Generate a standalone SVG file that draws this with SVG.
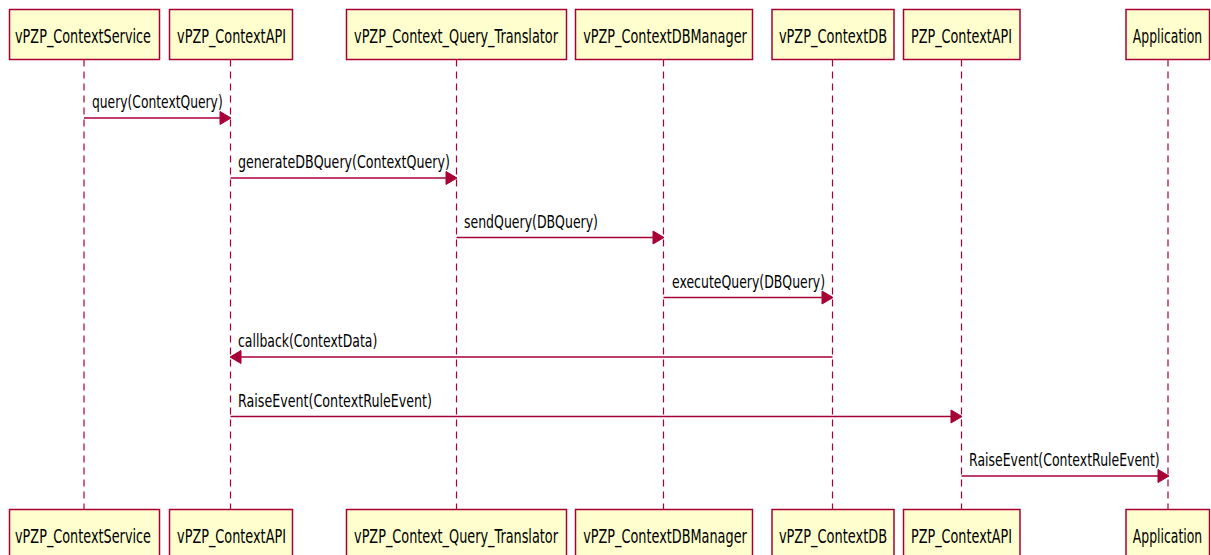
<svg xmlns="http://www.w3.org/2000/svg" width="1211" height="555" viewBox="0 0 1211 555">
<style>
.box{fill:#FEFECE;stroke:#A80036;stroke-width:1.5}
.pt{font-family:"DejaVu Sans","Liberation Sans",sans-serif;font-size:19px;fill:#000;text-anchor:middle}
.mt{font-family:"DejaVu Sans","Liberation Sans",sans-serif;font-size:18px;fill:#000}
.life{stroke:#A80036;stroke-width:1.2;stroke-dasharray:7,5;fill:none}
.msg{stroke:#A80036;stroke-width:1.5;fill:none}
.head{fill:#A80036;stroke:#A80036;stroke-width:1}
</style>
<rect width="1211" height="555" fill="#fff"/>
<g id="lifelines">
<line class="life" x1="84" y1="59.5" x2="84" y2="509.5"/>
<line class="life" x1="230.5" y1="59.5" x2="230.5" y2="509.5"/>
<line class="life" x1="456.5" y1="59.5" x2="456.5" y2="509.5"/>
<line class="life" x1="663.5" y1="59.5" x2="663.5" y2="509.5"/>
<line class="life" x1="832.5" y1="59.5" x2="832.5" y2="509.5"/>
<line class="life" x1="961.5" y1="59.5" x2="961.5" y2="509.5"/>
<line class="life" x1="1168" y1="59.5" x2="1168" y2="509.5"/>
</g>
<g id="vPZP_ContextService">
<rect class="box" x="9.5" y="9.5" width="150" height="50"/>
<text class="pt" transform="translate(83,43) scale(0.66,1)" textLength="206" lengthAdjust="spacingAndGlyphs">vPZP_ContextService</text>
<rect class="box" x="9.5" y="509.5" width="150" height="50"/>
<text class="pt" transform="translate(83,543) scale(0.66,1)" textLength="206" lengthAdjust="spacingAndGlyphs">vPZP_ContextService</text>
</g>
<g id="vPZP_ContextAPI">
<rect class="box" x="169.5" y="9.5" width="123" height="50"/>
<text class="pt" transform="translate(231.5,43) scale(0.66,1)" textLength="165" lengthAdjust="spacingAndGlyphs">vPZP_ContextAPI</text>
<rect class="box" x="169.5" y="509.5" width="123" height="50"/>
<text class="pt" transform="translate(231.5,543) scale(0.66,1)" textLength="165" lengthAdjust="spacingAndGlyphs">vPZP_ContextAPI</text>
</g>
<g id="vPZP_Context_Query_Translator">
<rect class="box" x="346.5" y="9.5" width="220" height="50"/>
<text class="pt" transform="translate(456,43) scale(0.66,1)" textLength="309" lengthAdjust="spacingAndGlyphs">vPZP_Context_Query_Translator</text>
<rect class="box" x="346.5" y="509.5" width="220" height="50"/>
<text class="pt" transform="translate(456,543) scale(0.66,1)" textLength="309" lengthAdjust="spacingAndGlyphs">vPZP_Context_Query_Translator</text>
</g>
<g id="vPZP_ContextDBManager">
<rect class="box" x="575.5" y="9.5" width="177" height="50"/>
<text class="pt" transform="translate(665,43) scale(0.66,1)" textLength="248" lengthAdjust="spacingAndGlyphs">vPZP_ContextDBManager</text>
<rect class="box" x="575.5" y="509.5" width="177" height="50"/>
<text class="pt" transform="translate(665,543) scale(0.66,1)" textLength="248" lengthAdjust="spacingAndGlyphs">vPZP_ContextDBManager</text>
</g>
<g id="vPZP_ContextDB">
<rect class="box" x="772" y="9.5" width="122" height="50"/>
<text class="pt" transform="translate(833,43) scale(0.66,1)" textLength="164" lengthAdjust="spacingAndGlyphs">vPZP_ContextDB</text>
<rect class="box" x="772" y="509.5" width="122" height="50"/>
<text class="pt" transform="translate(833,543) scale(0.66,1)" textLength="164" lengthAdjust="spacingAndGlyphs">vPZP_ContextDB</text>
</g>
<g id="PZP_ContextAPI">
<rect class="box" x="903.5" y="9.5" width="116.5" height="50"/>
<text class="pt" transform="translate(961.5,43) scale(0.66,1)" textLength="153" lengthAdjust="spacingAndGlyphs">PZP_ContextAPI</text>
<rect class="box" x="903.5" y="509.5" width="116.5" height="50"/>
<text class="pt" transform="translate(961.5,543) scale(0.66,1)" textLength="153" lengthAdjust="spacingAndGlyphs">PZP_ContextAPI</text>
</g>
<g id="Application">
<rect class="box" x="1126" y="9.5" width="83.5" height="50"/>
<text class="pt" transform="translate(1167.5,43) scale(0.66,1)" textLength="105" lengthAdjust="spacingAndGlyphs">Application</text>
<rect class="box" x="1126" y="509.5" width="83.5" height="50"/>
<text class="pt" transform="translate(1167.5,543) scale(0.66,1)" textLength="105" lengthAdjust="spacingAndGlyphs">Application</text>
</g>
<g id="connectors">
<line class="msg" x1="84" y1="118" x2="222" y2="118"/>
<polygon class="head" points="220,111.5 231,118 220,124.5"/>
<text class="mt" transform="translate(92,108) scale(0.66,1)" textLength="198" lengthAdjust="spacingAndGlyphs">query(ContextQuery)</text>

<line class="msg" x1="230.5" y1="178" x2="448" y2="178"/>
<polygon class="head" points="446,171.5 457,178 446,184.5"/>
<text class="mt" transform="translate(238,168) scale(0.66,1)" textLength="321" lengthAdjust="spacingAndGlyphs">generateDBQuery(ContextQuery)</text>

<line class="msg" x1="456.5" y1="237.5" x2="655" y2="237.5"/>
<polygon class="head" points="653,231 664,237.5 653,244"/>
<text class="mt" transform="translate(464,227.5) scale(0.66,1)" textLength="203" lengthAdjust="spacingAndGlyphs">sendQuery(DBQuery)</text>

<line class="msg" x1="663.5" y1="297.5" x2="824" y2="297.5"/>
<polygon class="head" points="822,291 833,297.5 822,304"/>
<text class="mt" transform="translate(672,287.5) scale(0.66,1)" textLength="232" lengthAdjust="spacingAndGlyphs">executeQuery(DBQuery)</text>

<line class="msg" x1="832.5" y1="357" x2="239" y2="357"/>
<polygon class="head" points="241,350.5 230,357 241,363.5"/>
<text class="mt" transform="translate(238,347) scale(0.66,1)" textLength="211" lengthAdjust="spacingAndGlyphs">callback(ContextData)</text>

<line class="msg" x1="230.5" y1="416.5" x2="953" y2="416.5"/>
<polygon class="head" points="951,410 962,416.5 951,423"/>
<text class="mt" transform="translate(238,406.5) scale(0.66,1)" textLength="294" lengthAdjust="spacingAndGlyphs">RaiseEvent(ContextRuleEvent)</text>

<line class="msg" x1="961.5" y1="476" x2="1160" y2="476"/>
<polygon class="head" points="1158,469.5 1169,476 1158,482.5"/>
<text class="mt" transform="translate(969,466) scale(0.66,1)" textLength="289" lengthAdjust="spacingAndGlyphs">RaiseEvent(ContextRuleEvent)</text>
</g>
</svg>
